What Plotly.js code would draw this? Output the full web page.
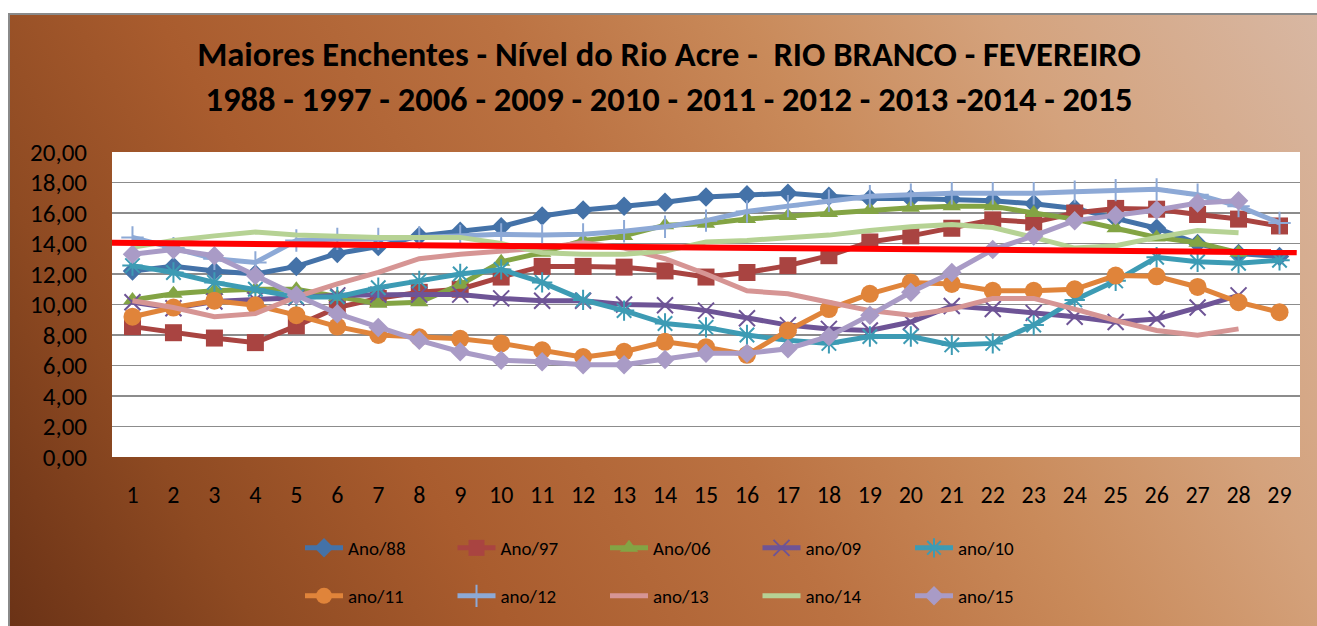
<!DOCTYPE html>
<html>
<head>
<meta charset="utf-8">
<script src="https://cdn.plot.ly/plotly-3.0.1.min.js"></script>
<style>
  html, body { margin: 0; padding: 0; background: #ffffff; }
  #frame {
    position: absolute; left: 8px; top: 13px; width: 1320px; height: 620px;
    border-top: 2px solid #8a8a8a; border-left: 2px solid #8a8a8a;
    background: linear-gradient(60deg, #6a3216 0%, #8e4a22 15%, #a95c2e 30%, #bb7242 50%, #c98a5a 65%, #d4a27c 80%, #d8b8a4 100%);
  }
  #chart { position: absolute; left: 0; top: 0; width: 1317px; height: 626px; }
</style>
</head>
<body>
<div id="frame"></div>
<div id="chart"></div>
<script>
// ---- data ----
const days = [1,2,3,4,5,6,7,8,9,10,11,12,13,14,15,16,17,18,19,20,21,22,23,24,25,26,27,28,29];
const seriesNames = ["Ano/88","Ano/97","Ano/06","ano/09","ano/10","ano/11","ano/12","ano/13","ano/14","ano/15"];
const ano88 = [12.2,12.5,12.2,12.0,12.5,13.35,13.8,14.5,14.8,15.1,15.8,16.2,16.45,16.7,17.05,17.2,17.3,17.1,16.95,16.95,16.9,16.8,16.6,16.3,15.65,15.0,14.0,13.35,13.15];
const ano97 = [8.55,8.15,7.8,7.5,8.6,9.8,10.4,10.8,11.0,11.8,12.5,12.5,12.45,12.2,11.8,12.1,12.55,13.2,14.1,14.5,15.0,15.55,15.4,16.0,16.3,16.25,15.9,15.6,15.15];
const ano06 = [10.3,10.7,10.9,11.0,11.0,10.5,10.05,10.15,11.3,12.8,13.4,14.2,14.5,15.2,15.3,15.6,15.8,16.0,16.2,16.35,16.45,16.45,16.0,15.6,15.0,14.4,14.05,13.4,null];
const ano09 = [10.15,9.75,10.2,10.3,10.45,10.6,10.65,10.65,10.65,10.4,10.25,10.25,10.0,9.95,9.6,9.1,8.65,8.4,8.3,8.85,9.9,9.7,9.45,9.2,8.85,9.05,9.8,10.6,null];
const ano10 = [12.55,12.1,11.45,11.0,10.5,10.5,11.1,11.55,12.0,12.3,11.45,10.3,9.6,8.75,8.5,8.0,7.65,7.45,7.9,7.9,7.35,7.45,8.65,10.3,11.55,13.1,12.8,12.7,12.9];
const ano11 = [9.2,9.8,10.25,9.95,9.3,8.55,8.0,7.85,7.75,7.45,7.0,6.55,6.9,7.55,7.2,6.7,8.3,9.7,10.7,11.45,11.35,10.9,10.9,11.0,11.9,11.85,11.15,10.15,9.5];
const ano12 = [14.4,13.7,13.0,12.75,14.2,14.3,14.3,14.4,14.5,14.6,14.55,14.6,14.8,15.1,15.5,16.1,16.45,16.8,17.1,17.2,17.3,17.3,17.3,17.4,17.5,17.55,17.2,16.45,15.35];
const ano13 = [10.25,9.8,9.2,9.4,10.5,11.35,12.1,13.0,13.3,13.5,13.7,14.05,13.7,13.0,12.0,10.9,10.7,10.15,9.6,9.3,9.7,10.4,10.4,9.7,8.95,8.3,7.98,8.4,null];
const ano14 = [13.75,14.2,14.5,14.75,14.55,14.45,14.4,14.4,14.4,14.0,13.4,13.3,13.3,13.5,14.1,14.2,14.35,14.55,14.85,15.1,15.25,15.05,14.4,13.7,13.85,14.4,14.85,14.7,null];
const ano15 = [13.3,13.6,13.2,11.9,10.6,9.4,8.5,7.65,6.9,6.35,6.25,6.05,6.05,6.4,6.8,6.8,7.1,7.9,9.3,10.8,12.1,13.6,14.5,15.5,15.85,16.2,16.65,16.8,null];
const refLineX = [0.45, 29.42];
const refLineY = [14.05, 13.42];
const yTickVals = [0,2,4,6,8,10,12,14,16,18,20];
const titleLines = ["Maiores Enchentes - Nível do Rio Acre -  RIO BRANCO - FEVEREIRO",
                    "1988 - 1997 - 2006 - 2009 - 2010 - 2011 - 2012 - 2013 -2014 - 2015"];

// ---- styles ----
const FONT = "Calibri, Carlito, Lato, sans-serif";
const values = [ano88, ano97, ano06, ano09, ano10, ano11, ano12, ano13, ano14, ano15];
const colors = ["#4472A8","#A94441","#83A444","#6E5496","#3D9BB4","#E0843A","#8DA9D6","#D69594","#B6D294","#A99BC6"];
const symbols = ["diamond","square","triangle-up","x-thin-open","asterisk-open","circle","cross-thin-open",null,null,"diamond"];
const sizes = [15,17,16,16,17,18,16,0,0,15];

const traces = values.map((v, i) => {
  const t = {
    x: days, y: v, name: seriesNames[i], type: "scatter",
    legend: i < 5 ? "legend" : "legend2",
    line: {color: colors[i], width: 5},
    connectgaps: false
  };
  if (symbols[i]) {
    t.mode = "lines+markers";
    const open = symbols[i].indexOf("open") >= 0;
    t.marker = {symbol: symbols[i], size: sizes[i], color: colors[i],
                line: {color: colors[i], width: open ? 2 : 0}};
  } else {
    t.mode = "lines";
  }
  return t;
});
traces.push({x: refLineX, y: refLineY, mode: "lines", type: "scatter",
  line: {color: "#FF0000", width: 6}, showlegend: false, hoverinfo: "skip"});

const legendCommon = {
  orientation: "h", xref: "container", yref: "container",
  xanchor: "left", yanchor: "middle",
  bgcolor: "rgba(0,0,0,0)", borderwidth: 0,
  font: {family: FONT, size: 19, color: "#000"},
  entrywidth: 99.5, entrywidthmode: "pixels", itemwidth: 38,
  traceorder: "normal"
};

const layout = {
  width: 1317, height: 626,
  paper_bgcolor: "rgba(0,0,0,0)", plot_bgcolor: "#ffffff",
  separators: ",.",
  font: {family: FONT, color: "#000"},
  margin: {l: 112, r: 17, t: 152, b: 169, pad: 0},
  title: {
    text: "<b>" + titleLines[0] + "</b><br><b>" + titleLines[1] + "</b>",
    font: {family: FONT, size: 34.5, color: "#000"},
    x: 669/1317, xref: "container", xanchor: "center",
    y: 1 - 66/626, yref: "container", yanchor: "top"
  },
  xaxis: {
    type: "linear", range: [0.5, 29.5], tickvals: days, ticktext: days.map(String),
    showgrid: false, zeroline: false, showline: false, ticks: "",
    tickfont: {family: FONT, size: 24, color: "#000"}, ticklabelstandoff: 21,
    fixedrange: true
  },
  yaxis: {
    range: [0, 20], tickvals: yTickVals, tickformat: ".2f",
    showgrid: true, gridcolor: "#8c8c8c", gridwidth: 1.5,
    zeroline: false, showline: false, ticks: "",
    tickfont: {family: FONT, size: 25, color: "#000"}, ticklabelstandoff: 24,
    fixedrange: true
  },
  legend: Object.assign({}, legendCommon, {x: 300/1317, y: 1 - 548/626}),
  legend2: Object.assign({}, legendCommon, {x: 300/1317, y: 1 - 596/626}),
  showlegend: true
};

Plotly.newPlot("chart", traces, layout, {displayModeBar: false, staticPlot: true});
</script>
</body>
</html>
